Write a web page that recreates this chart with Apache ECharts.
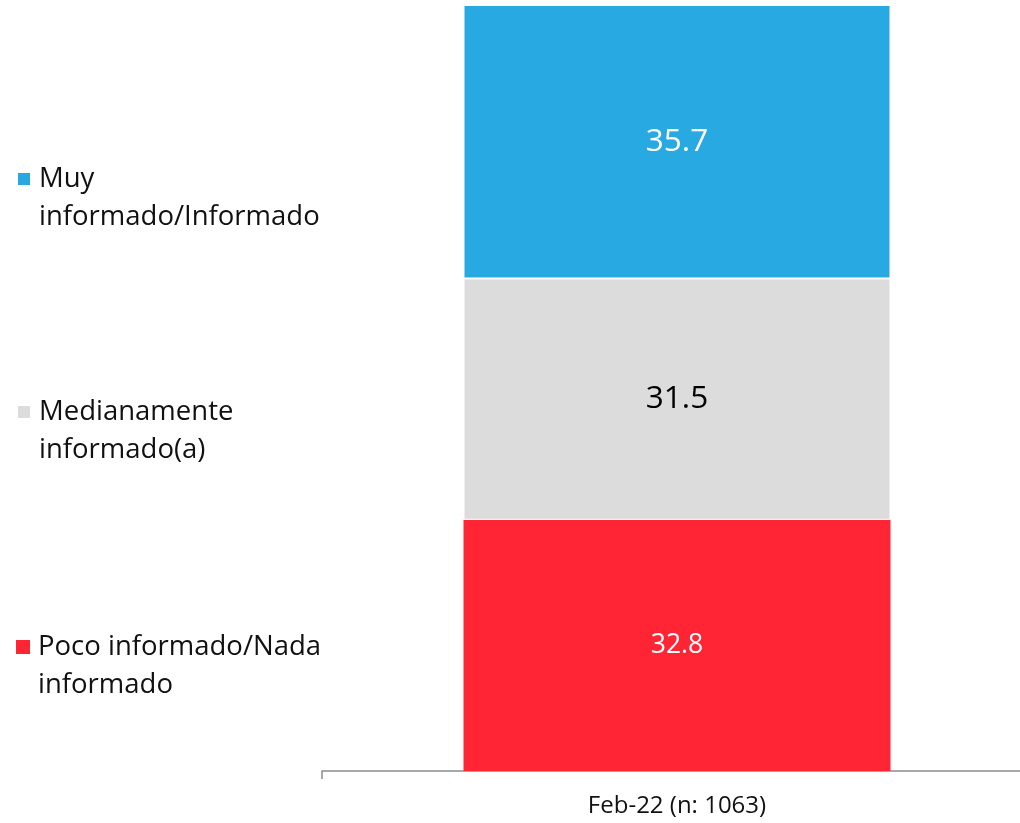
<!DOCTYPE html>
<html>
<head>
<meta charset="utf-8">
<style>
  html, body { margin: 0; padding: 0; background: #ffffff; }
  #chart { width: 1020px; height: 823px; }
</style>
<script src="https://cdn.jsdelivr.net/npm/echarts@6/dist/echarts.min.js"></script>
</head>
<body>
<div id="chart"></div>
<script>
// Survey wave shown on the category axis
const categories = ['Feb-22 (n: 1063)'];

// Series names, bottom of the stack first
const seriesNames = ['Poco informado/Nada informado', 'Medianamente informado(a)', 'Muy informado/Informado'];

// Share of respondents (%) per answer group
const pocoValues = [32.8];
const medianamenteValues = [31.5];
const muyValues = [35.7];

// Legend text, broken over two lines
const legendLines = {
  'Muy informado/Informado': ['Muy', 'informado/Informado'],
  'Medianamente informado(a)': ['Medianamente', 'informado(a)'],
  'Poco informado/Nada informado': ['Poco informado/Nada', 'informado']
};

const colors = {
  'Muy informado/Informado': '#29A9E1',
  'Medianamente informado(a)': '#DCDCDC',
  'Poco informado/Nada informado': '#FF2535'
};

const chart = echarts.init(document.getElementById('chart'), null, { renderer: 'canvas' });

const fontFamily = '"Open Sans", "Noto Sans", sans-serif';

// The leading blank line keeps the swatch level with the first text line
function legendFor(name, top) {
  return {
    orient: 'vertical',
    left: 16,
    top: top,
    padding: 0,
    icon: 'rect',
    itemWidth: 14,
    itemHeight: 14,
    itemGap: 0,
    selectedMode: false,
    data: [name],
    formatter: n => '\n' + legendLines[n].join('\n'),
    textStyle: {
      fontFamily: fontFamily,
      fontSize: 27.5,
      lineHeight: 38,
      color: '#111111',
      padding: [0, 0, 0, 3]
    }
  };
}

function barSeries(name, values, label, border) {
  return {
    name: name,
    type: 'bar',
    stack: 'total',
    barWidth: 427,
    data: values,
    itemStyle: {
      color: colors[name],
      borderColor: '#ffffff',
      borderWidth: border
    },
    label: Object.assign({
      show: true,
      position: 'inside',
      fontFamily: fontFamily,
      formatter: p => p.value.toFixed(1)
    }, label)
  };
}

chart.setOption({
  animation: false,
  backgroundColor: '#ffffff',
  legend: [
    legendFor('Muy informado/Informado', 122),
    legendFor('Medianamente informado(a)', 355),
    legendFor('Poco informado/Nada informado', 590)
  ],
  grid: {
    left: 322, width: 710, top: 5, bottom: 52,
    containLabel: false,
    outerBoundsMode: 'none'
  },
  xAxis: {
    type: 'category',
    data: categories,
    axisLine: { show: true, lineStyle: { color: '#8c8c8c', width: 1.5 } },
    axisTick: { show: true, length: 8, lineStyle: { color: '#8c8c8c', width: 1.5 } },
    axisLabel: {
      margin: 23,
      fontFamily: fontFamily,
      fontSize: 24,
      color: '#111111'
    }
  },
  yAxis: {
    type: 'value',
    min: 0,
    max: 100,
    show: false,
    splitLine: { show: false }
  },
  series: [
    barSeries(seriesNames[0], pocoValues, { color: '#ffffff', fontSize: 26.5 }, 0),
    barSeries(seriesNames[1], medianamenteValues, { color: '#000000', fontSize: 31.5 }, 1),
    barSeries(seriesNames[2], muyValues, { color: '#ffffff', fontSize: 31.5 }, 1)
  ]
});
</script>
</body>
</html>
